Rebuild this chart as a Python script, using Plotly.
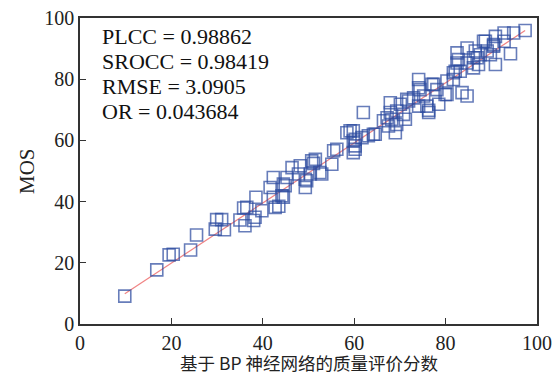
import plotly.graph_objects as go

# predicted scores (BP network) and MOS values
pred = [9.8, 16.8, 19.5, 20.4, 24.2, 25.5, 29.6, 29.9, 31.0, 31.6,
        35.0, 36.1, 35.8, 38.0, 36.5, 38.3, 38.5, 39.8, 41.6, 42.3,
        42.7, 42.3, 44.2, 44.5, 43.5, 45.3, 46.4, 44.9, 44.5, 47.8,
        48.2, 49.3, 49.3, 49.6, 50.4, 50.7, 51.5, 51.1, 52.5, 52.9,
        55.1, 55.5, 56.2, 58.4, 59.1, 59.8, 60.2, 59.8, 60.2, 60.2,
        59.8, 61.7, 63.1, 64.6, 62.0, 66.4, 67.2, 67.5, 68.2, 69.0,
        69.3, 69.3, 70.8, 70.1, 67.9, 71.2, 71.5, 73.0, 74.1, 74.1,
        74.4, 75.2, 75.9, 76.3, 77.4, 78.1, 78.5, 79.9, 80.3, 81.7,
        82.1, 83.2, 83.6, 84.7, 82.5, 84.7, 86.1, 87.2, 90.9, 82.5,
        84.7, 86.5, 86.1, 87.6, 89.1, 89.8, 88.3, 90.5, 92.8, 94.2,
        90.9, 92.8, 94.9, 97.4, 74.1, 77.0, 80.3, 81.7, 71.9, 67.9,
        64.2, 76.3, 82.8, 88.7, 90.5, 86.9]
mos = [9.1, 17.7, 22.6, 22.8, 24.2, 29.1, 31.0, 34.1, 34.1, 30.8,
       34.0, 32.1, 37.9, 33.8, 38.1, 34.9, 41.4, 37.0, 44.6, 47.9,
       38.1, 41.4, 41.9, 45.7, 38.5, 47.9, 51.1, 45.2, 41.4, 49.0,
       51.7, 47.3, 44.6, 46.8, 49.0, 53.3, 53.8, 52.5, 49.5, 49.0,
       52.2, 56.6, 57.1, 62.5, 63.1, 63.1, 57.1, 59.8, 60.4, 58.2,
       56.0, 60.9, 61.5, 62.0, 69.1, 66.4, 67.4, 64.7, 66.9, 62.5,
       65.2, 69.6, 68.5, 71.8, 72.3, 66.9, 73.4, 73.9, 71.2, 79.9,
       76.6, 74.5, 71.2, 69.1, 78.3, 76.6, 71.8, 75.0, 79.4, 79.9,
       82.6, 82.6, 75.6, 74.5, 85.3, 85.3, 83.7, 84.8, 84.8, 88.6,
       90.2, 89.2, 87.0, 88.0, 89.2, 88.0, 92.4, 91.3, 92.4, 88.3,
       94.0, 95.1, 95.1, 95.9, 77.2, 78.3, 75.0, 82.1, 72.9, 69.1,
       62.0, 69.8, 86.4, 92.4, 90.8, 87.0]

# fitted line end points
fit_x = [9.8, 97.4]
fit_y = [9.9, 95.9]

stats_labels = ["PLCC = 0.98862", "SROCC = 0.98419", "RMSE = 3.0905", "OR = 0.043684"]

x_ticks = [0, 20, 40, 60, 80, 100]
y_ticks = [0, 20, 40, 60, 80, 100]

x_title = "基于 BP 神经网络的质量评价分数"
y_title = "MOS"

serif = "Liberation Serif"

fig = go.Figure()
fig.add_trace(go.Scatter(
    x=fit_x, y=fit_y, mode="lines",
    line=dict(color="rgba(235,90,90,0.75)", width=1.2),
    showlegend=False, hoverinfo="skip"))
fig.add_trace(go.Scatter(
    x=pred, y=mos, mode="markers",
    marker=dict(symbol="square-open", size=12,
                color="rgba(45,75,160,0.72)",
                line=dict(width=1.6, color="rgba(45,75,160,0.72)")),
    showlegend=False))

for i, lab in enumerate(stats_labels):
    fig.add_annotation(
        x=0.043, y=0.94 - i * 0.0815, xref="paper", yref="paper",
        xanchor="left", yanchor="middle", align="left", showarrow=False,
        text=lab, font=dict(family=serif, size=22, color="#111"))

# axis titles as annotations (positioned like the reference)
fig.add_annotation(
    x=0.5, y=-0.1699, xref="paper", yref="paper",
    xanchor="center", yanchor="bottom", showarrow=False, borderpad=0,
    text=x_title, font=dict(family="Noto Sans CJK SC", size=17.5, color="#222"))
fig.add_annotation(
    x=-0.116, y=0.5, xref="paper", yref="paper",
    xanchor="center", yanchor="middle", showarrow=False, textangle=-90,
    text=y_title, font=dict(family=serif, size=21, color="#222"))

axis_common = dict(
    showgrid=False, zeroline=False, showline=True, mirror=True,
    linecolor="#333", linewidth=1.5, ticks="inside", ticklen=6,
    tickwidth=1.2, tickcolor="#333", automargin=False,
    tickfont=dict(family=serif, size=20, color="#222"))

fig.update_xaxes(range=[0, 100], tickvals=x_ticks, **axis_common)
fig.update_yaxes(range=[0, 100], tickvals=y_ticks, **axis_common)

fig.update_layout(
    width=556, height=376,
    margin=dict(l=80, r=19, t=18, b=52),
    paper_bgcolor="white", plot_bgcolor="white",
)

fig.write_html("out.html")
